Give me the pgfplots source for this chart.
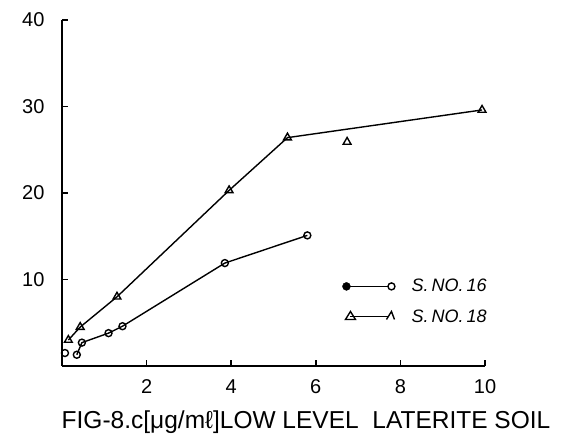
\documentclass[border=0pt]{standalone}
\usepackage{fontspec}
\setmainfont{Liberation Sans}
\usepackage{pgfplots}
\pgfplotsset{compat=1.18}
\begin{document}
\begin{tikzpicture}[x=1pt,y=1pt]
\path[use as bounding box] (0,0) rectangle (570,444);
\begin{axis}[
  at={(62pt,78pt)}, anchor=south west,
  scale only axis, width=423pt, height=346pt,
  xmin=0, xmax=10, ymin=0, ymax=40,
  axis x line*=bottom, axis y line*=left,
  axis line style={line width=2pt},
  xtick={2,4,6,8,10}, ytick={10,20,30,40},
  tick align=inside, major tick length=6pt,
  tick style={line width=1.5pt, black},
  /pgf/number format/assume math mode=true,
  ticklabel style={font=\fontsize{20}{20}\selectfont},
  xticklabel style={yshift=-10pt},
  yticklabel style={xshift=-14pt},
  legend style={draw=none, fill=none, at={(axis cs:6.55,10.5)}, anchor=north west,
    font=\fontsize{18}{18}\selectfont\itshape, row sep=12pt, cells={anchor=west}},
  legend cell align=left,
]
% S. NO. 16 (circles)
\addplot[black, line width=1.4pt, mark=o, mark size=3.5pt, mark options={line width=1.4pt}, forget plot] coordinates {
 (0.35,1.3) (0.47,2.7) (1.1,3.8) (1.43,4.6) (3.85,11.9) (5.8,15.1)};
\addplot[black, only marks, mark=o, mark size=3.5pt, mark options={line width=1.4pt}, forget plot] coordinates {(0.07,1.5)};
% S. NO. 18 (triangles)
\addplot[black, line width=1.4pt, mark=triangle, mark size=4.5pt, mark options={line width=1.4pt}, forget plot] coordinates {
 (0.15,3.0) (0.43,4.5) (1.3,8.0) (3.95,20.3) (5.33,26.4) (9.93,29.6)};
\addplot[black, only marks, mark=triangle, mark size=4.5pt, mark options={line width=1.4pt}, forget plot] coordinates {(6.74,25.9)};
\addlegendimage{legend image code/.code={
  \draw[line width=1.4pt] (0pt,0pt)--(45pt,0pt);
  \fill (0pt,0pt) circle (4pt);
  \draw[line width=1.4pt, fill=white] (45pt,0pt) circle (3.5pt);}}
\addlegendentry{\hspace{14pt}S.\,NO.\,16}
\addlegendimage{legend image code/.code={
  \draw[line width=1.4pt] (4pt,0pt)--(43pt,0pt);
  \draw[line width=1.4pt] (-1pt,-3pt)--(4pt,5pt)--(9pt,-3pt)--cycle;
  \draw[line width=1.4pt] (40pt,-3pt)--(45pt,5pt)--(48pt,-3pt);}}
\addlegendentry{\hspace{14pt}S.\,NO.\,18}
\end{axis}
\node[font=\fontsize{24.5}{24.5}\selectfont] at (306,22) {FIG-8.c[μg/mℓ]LOW LEVEL\ \ LATERITE SOIL};
\end{tikzpicture}
\end{document}
